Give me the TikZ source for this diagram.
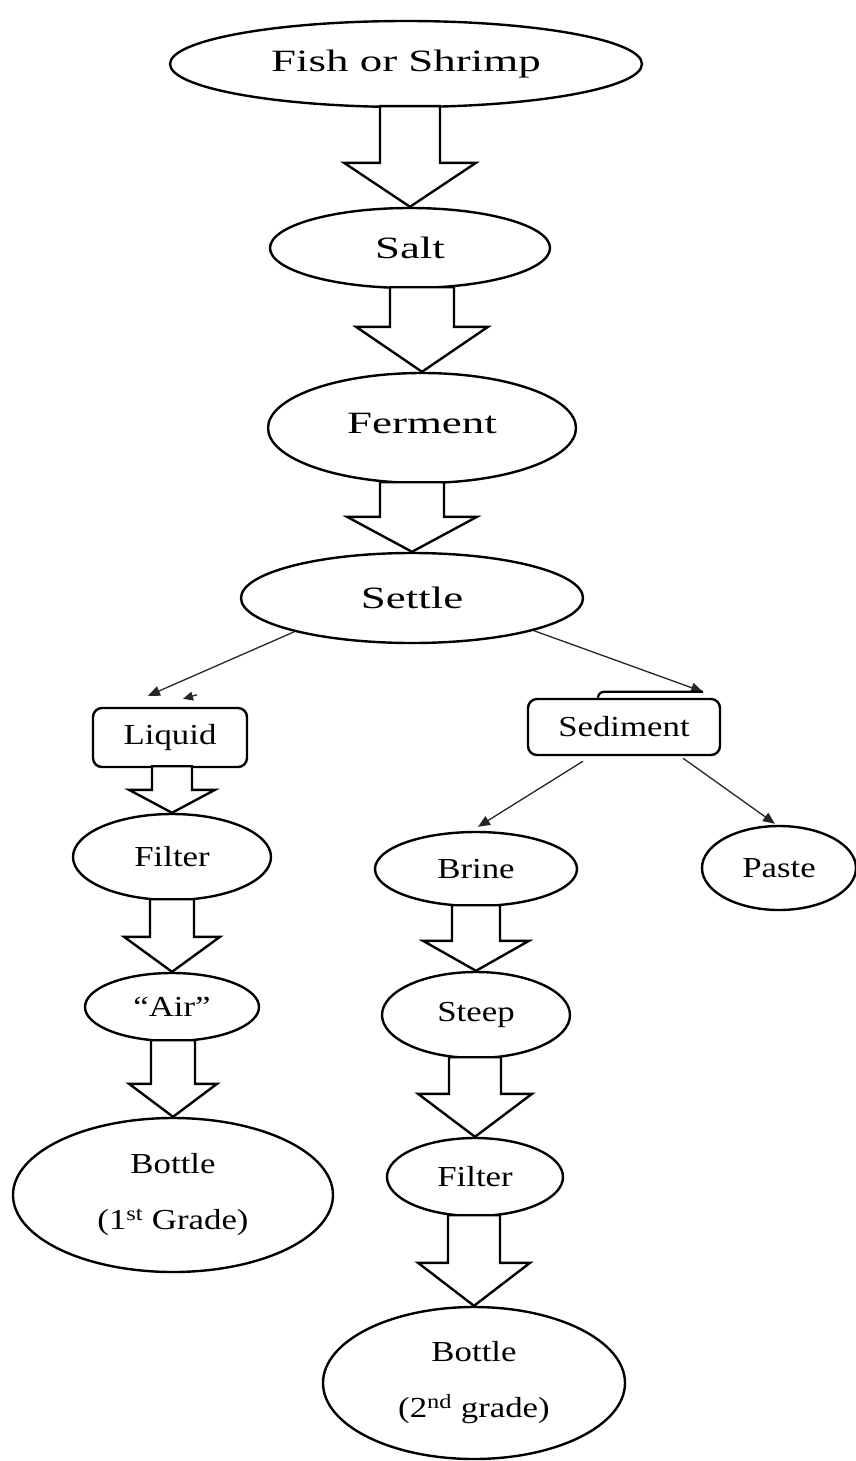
\documentclass[tikz,border=0pt]{standalone}
\usepackage{fontspec}
\usepackage{graphicx}
\setmainfont{Liberation Serif}
\usetikzlibrary{arrows.meta,calc,shapes.geometric}
\newcommand\bigtxt[1]{\fontsize{31}{36}\selectfont\scalebox{1.45}[1]{#1}}
\newcommand\smtxt[1]{\fontsize{29}{34}\selectfont\scalebox{1.2}[1]{#1}}
\newcommand\blockarr[5]{%
  \draw[blk] let \p1=(#1.south), \p2=(#2.north) in
   (\x2-#3pt,\y1+2pt) -- (\x2-#3pt,\y2+#5pt) -- (\x2-#4pt,\y2+#5pt) -- (\x2,\y2)
   -- (\x2+#4pt,\y2+#5pt) -- (\x2+#3pt,\y2+#5pt) -- (\x2+#3pt,\y1+2pt) -- cycle;}
\begin{document}
\begin{tikzpicture}[x=1pt,y=-1pt,
  ell/.style={draw=black,line width=2.4pt,ellipse,inner sep=0pt,fill=white},
  rbox/.style={draw=black,line width=2.4pt,rectangle,rounded corners=9pt,inner sep=0pt,fill=white},
  blk/.style={draw=black,line width=2.4pt,fill=white,line join=miter},
  thin/.style={draw=black!85,line width=1.3pt,-{Triangle[length=12pt,width=10pt]}},
  twoline/.style={align=center,font=\fontsize{29}{56}\selectfont}]
\useasboundingbox (0,0) rectangle (856,1461);
% nodes
\node[ell,minimum width=472pt,minimum height=86pt] (fish) at (406,64) {\bigtxt{Fish or Shrimp}};
\node[ell,minimum width=280pt,minimum height=80pt] (salt) at (410,248) {\bigtxt{Salt}};
\node[ell,minimum width=308pt,minimum height=110pt] (ferment) at (422,428) {\raisebox{10pt}{\bigtxt{Ferment}}};
\node[ell,minimum width=342pt,minimum height=90pt] (settle) at (412,598) {\bigtxt{Settle}};
\node[rbox,minimum width=154pt,minimum height=59pt] (liquid) at (170,737.5) {\smtxt{Liquid}};
\node[rbox,minimum width=192pt,minimum height=56pt] (sediment) at (624,727) {\smtxt{Sediment}};
\node[ell,minimum width=198pt,minimum height=86pt] (filterA) at (172,857) {\smtxt{Filter}};
\node[ell,minimum width=174pt,minimum height=68pt] (air) at (172,1007) {\smtxt{“Air”}};
\node[ell,twoline,minimum width=320pt,minimum height=154pt] (bottleA) at (173,1195)
  {\scalebox{1.2}[1]{Bottle}\\\scalebox{1.2}[1]{(1\textsuperscript{st} Grade)}};
\node[ell,minimum width=202pt,minimum height=74pt] (brine) at (476,869) {\smtxt{Brine}};
\node[ell,minimum width=154pt,minimum height=84pt] (paste) at (779,868) {\smtxt{Paste}};
\node[ell,minimum width=188pt,minimum height=86pt] (steep) at (476,1015) {\smtxt{Steep}};
\node[ell,minimum width=176pt,minimum height=78pt] (filterB) at (475,1177) {\smtxt{Filter}};
\node[ell,twoline,minimum width=302pt,minimum height=152pt] (bottleB) at (474,1383)
  {\scalebox{1.2}[1]{Bottle}\\\scalebox{1.2}[1]{(2\textsuperscript{nd} grade)}};
% block arrows
\blockarr{fish}{salt}{30}{66}{44}
\blockarr{salt}{ferment}{32}{66}{45}
\blockarr{ferment}{settle}{32}{65}{35}
\blockarr{liquid}{filterA}{20}{43}{23}
\blockarr{filterA}{air}{22}{48}{35}
\blockarr{air}{bottleA}{22}{44}{33}
\blockarr{brine}{steep}{24}{53}{30}
\blockarr{steep}{filterB}{26}{57}{43}
\blockarr{filterB}{bottleB}{26}{56}{43}
% thin arrows
\draw[thin] (settle.196) -- ($(liquid.north)+(-22,-11)$);
\coordinate (stray1) at ($(liquid.north)+(27,-12)$);
\draw[thin,-{Triangle[length=10pt,width=9pt]}] (stray1) -- ++(-14,4);
\draw[thin] (settle.345) -- ($(sediment.north)+(79,-6)$);
\draw[line width=2.2pt] ($(sediment.north)+(-26,0)$) arc[start angle=180,end angle=90,radius=6pt] -- ($(sediment.north)+(79,-6)$);
\draw[thin] ($(sediment.south)+(-41,5)$) -- ($(brine.north)+(2,-4)$);
\draw[thin] ($(sediment.south)+(59,2)$) -- ($(paste.north)+(-4,-1)$);
\end{tikzpicture}
\end{document}
